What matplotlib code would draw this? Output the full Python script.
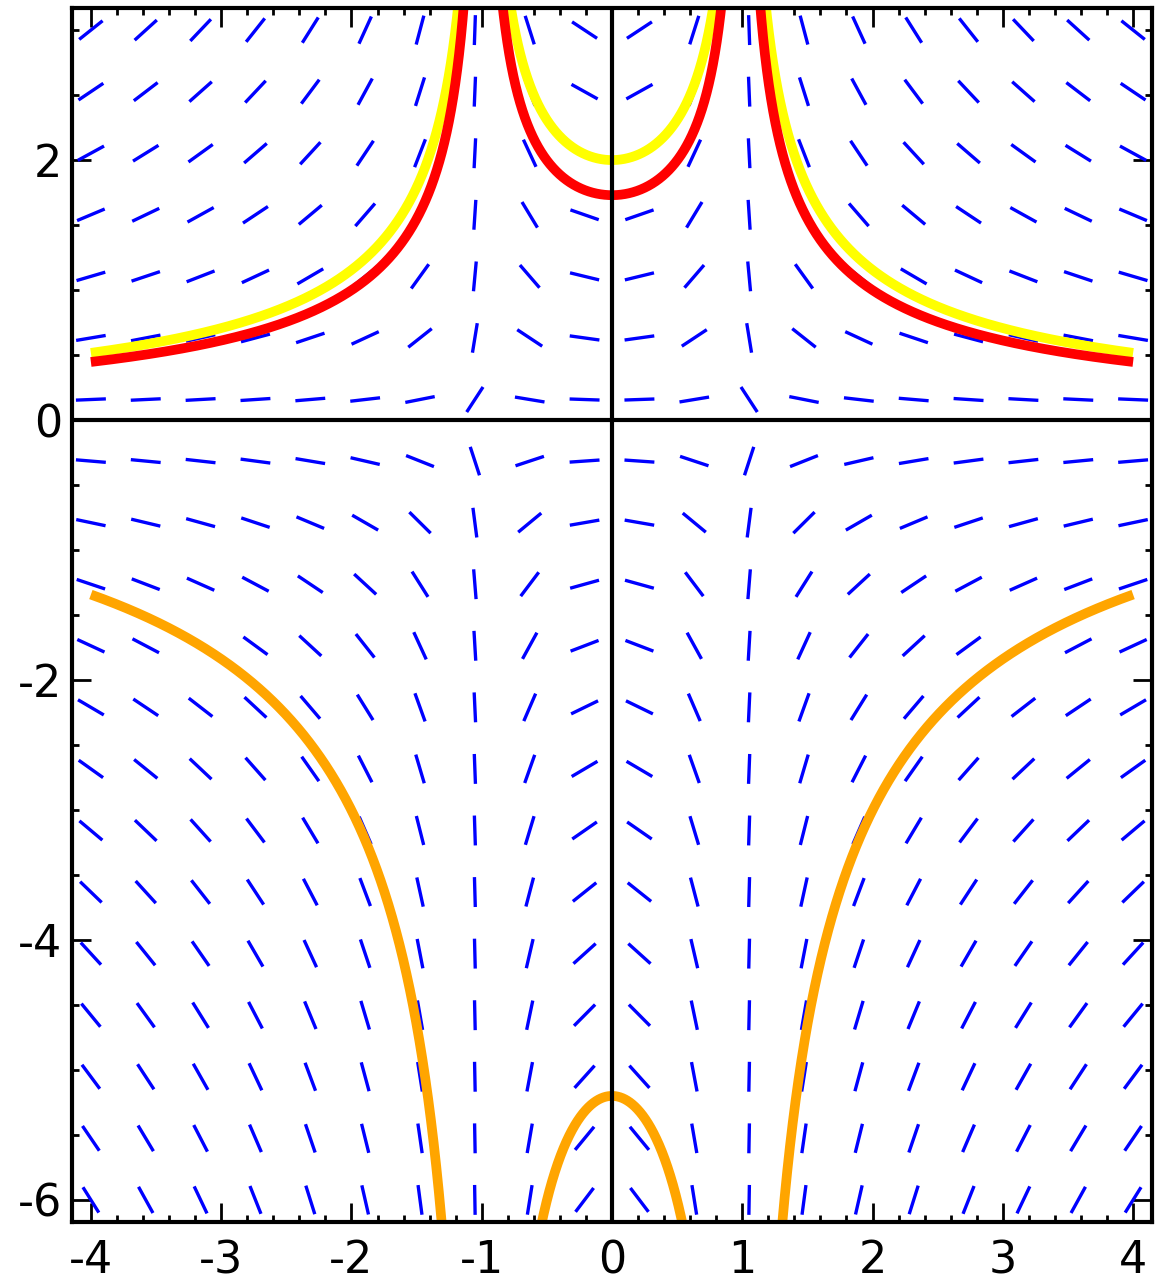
import numpy as np
import matplotlib
matplotlib.use("Agg")
import matplotlib.pyplot as plt
from matplotlib.collections import LineCollection
from matplotlib.ticker import MultipleLocator

plt.rcParams['axes.unicode_minus'] = False
plt.rcParams['font.family'] = ['DejaVu Sans']

# slope field  dy/dx = x*y / (1 - x^2)
grid_x = np.linspace(-4, 4, 20)
grid_y = np.linspace(-6, 3, 20)

# solution curves y = C / sqrt(|1 - x^2|)
curve_consts = [2.0, 1.73, -5.2]
curve_colors = ['#ffff00', '#ff0000', '#ffa500']
x_min, x_max = -4, 4

xticks = [-4, -3, -2, -1, 0, 1, 2, 3, 4]
yticks = [-6, -4, -2, 0, 2]

fig = plt.figure(figsize=(11.58, 12.84), dpi=100)
ax = fig.add_axes([72/1158, 1-1222/1284, 1080/1158, 1214/1284])
ax.set_xlim(-4.145, 4.145)
ax.set_ylim(-6.17, 3.17)

# slope segments
X, Y = np.meshgrid(grid_x, grid_y)
M = X*Y/(1 - X**2)
seg_len = 0.23
dx = seg_len/2/np.sqrt(1 + M**2)
dy = M*dx
segs = np.stack([np.stack([X-dx, Y-dy], -1), np.stack([X+dx, Y+dy], -1)], -2).reshape(-1, 2, 2)
ax.add_collection(LineCollection(segs, colors='#0000ff', linewidths=2.4, zorder=2))

# curves, split at the singular lines x = -1, 1
pieces = [(x_min, -1), (-1, 1), (1, x_max)]
for c, col in zip(curve_consts, curve_colors):
    for a, b in pieces:
        xs = np.linspace(a, b, 3000)
        xs = xs[np.abs(np.abs(xs) - 1) > 1e-9]
        ys = c/np.sqrt(np.abs(1 - xs**2))
        ax.plot(xs, ys, color=col, lw=7, zorder=3, solid_capstyle='butt')

# axes through origin
ax.axhline(0, color='black', lw=3, zorder=4)
ax.axvline(0, color='black', lw=3, zorder=4)

for s in ax.spines.values():
    s.set_linewidth(3)
    s.set_zorder(5)

ax.set_xticks(xticks)
ax.set_xticklabels([str(t) for t in xticks])
ax.set_yticks(yticks)
ax.set_yticklabels([str(t) for t in yticks])
ax.xaxis.set_minor_locator(MultipleLocator(0.2))
ax.yaxis.set_minor_locator(MultipleLocator(0.5))
ax.tick_params(which='both', direction='in', top=True, right=True, width=2, labelsize=32)
ax.tick_params(which='major', length=13.5)
ax.tick_params(which='minor', length=5)
ax.tick_params(axis='x', which='major', pad=12.5)
ax.tick_params(axis='y', which='major', pad=7)

fig.savefig('out.png', dpi=100)
